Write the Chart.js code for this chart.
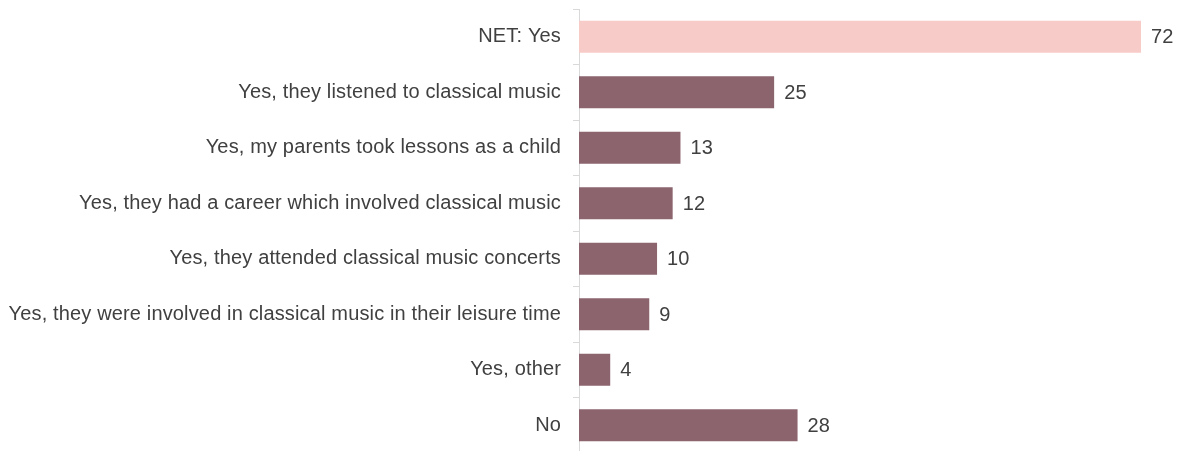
<!DOCTYPE html>
<html>
<head>
<meta charset="utf-8">
<script src="https://cdn.jsdelivr.net/npm/chart.js@4/dist/chart.umd.min.js"></script>
<style>
  html, body { margin: 0; padding: 0; background: #fff; overflow: hidden; }
  /* the axis runs a little past the bottom edge of the window */
  #wrap { width: 1178px; height: 453px; }
</style>
</head>
<body>
<div id="wrap"><canvas id="parentsChart"></canvas></div>
<script>
const categories = [
  'NET: Yes',
  'Yes, they listened to classical music',
  'Yes, my parents took lessons as a child',
  'Yes, they had a career which involved classical music',
  'Yes, they attended classical music concerts',
  'Yes, they were involved in classical music in their leisure time',
  'Yes, other',
  'No'
];
const values = [72, 25, 13, 12, 10, 9, 4, 28];
const barColors = ['#F7CBC8', '#8B646E', '#8B646E', '#8B646E', '#8B646E', '#8B646E', '#8B646E', '#8B646E'];

const fontFamily = '"Liberation Sans", Arial, sans-serif';

// slightly looser text; canvas resets wipe it, so set it again each pass
const textSpacing = {
  id: 'textSpacing',
  beforeLayout(chart) { chart.ctx.letterSpacing = '0.15px'; },
  beforeDraw(chart) { chart.ctx.letterSpacing = '0.15px'; }
};

// write the number just past the end of each bar
const valueLabels = {
  id: 'valueLabels',
  afterDatasetsDraw(chart) {
    const ctx = chart.ctx;
    const meta = chart.getDatasetMeta(0);
    ctx.save();
    ctx.font = '20px ' + fontFamily;
    ctx.fillStyle = '#404040';
    ctx.textAlign = 'left';
    ctx.textBaseline = 'middle';
    meta.data.forEach((bar, i) => {
      ctx.fillText(String(values[i]), bar.x + 10, bar.y + 1);
    });
    ctx.restore();
  }
};

new Chart(document.getElementById('parentsChart'), {
  type: 'bar',
  data: {
    labels: categories,
    datasets: [{
      data: values,
      backgroundColor: barColors,
      borderWidth: 0,
      barPercentage: 0.575,
      categoryPercentage: 1
    }]
  },
  options: {
    indexAxis: 'y',
    responsive: true,
    maintainAspectRatio: false,
    animation: false,
    layout: { padding: { top: 9, right: 37, bottom: 0, left: 0 } },
    plugins: {
      legend: { display: false },
      tooltip: { enabled: false }
    },
    scales: {
      x: {
        display: false,
        min: 0,
        max: 72
      },
      y: {
        // labels sit between the tick marks, so no room is needed above/below;
        // the long labels need a wider axis than the default half-width cap
        afterFit(scale) {
          scale.paddingTop = 0;
          scale.paddingBottom = 0;
          scale.width = 579;
        },
        grid: {
          offset: true,
          drawOnChartArea: false,
          drawTicks: true,
          tickLength: 6,
          color: '#D9D9D9'
        },
        border: { color: '#D9D9D9', width: 1 },
        ticks: {
          color: '#404040',
          padding: 12,
          font: { family: fontFamily, size: 20 }
        }
      }
    }
  },
  plugins: [textSpacing, valueLabels]
});
</script>
</body>
</html>
